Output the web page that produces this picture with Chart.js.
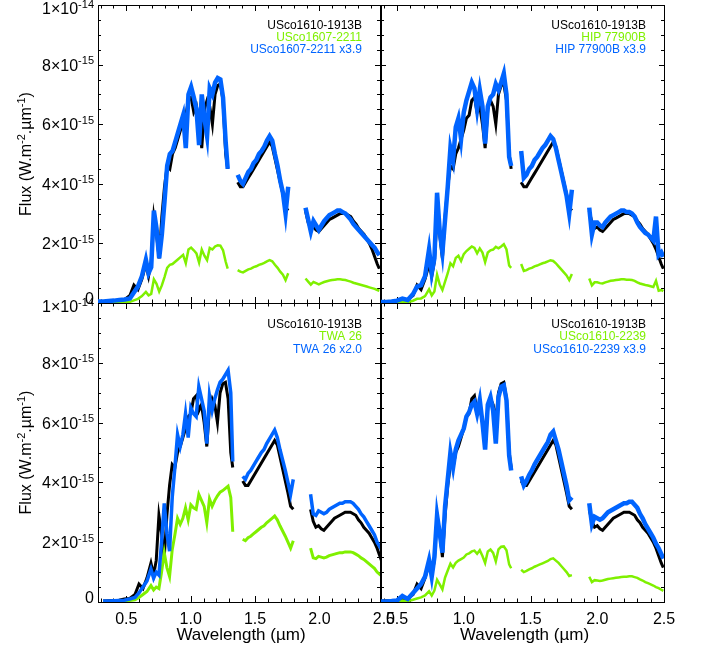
<!DOCTYPE html>
<html lang="en">
<head>
<meta charset="UTF-8">
<title>USco1610-1913B compared with young late-M dwarfs</title>
<script src="https://cdn.jsdelivr.net/npm/chart.js"></script>
<style>
    body { margin: 0; background: #fff; }
    #wrap { position: relative; width: 703px; height: 651px; }
    canvas { position: absolute; left: 0; top: 0; }
</style>
</head>
<body>
<div id="wrap">
    <canvas id="c0" width="703" height="651"></canvas>
    <canvas id="c1" width="703" height="651"></canvas>
    <canvas id="c2" width="703" height="651"></canvas>
    <canvas id="c3" width="703" height="651"></canvas>
</div>
<script>
// wavelength grid (micron), three bands separated by telluric gaps
const wavelength = [
    0.38, 0.42, 0.46, 0.50, 0.54, 0.58, 0.62, 0.65, 0.68, 0.71, 0.74, 0.76, 0.78, 0.80, 0.82, 0.84,
    0.86, 0.88, 0.90, 0.92, 0.94, 0.96, 0.98, 1.00, 1.02, 1.04, 1.06, 1.08, 1.10, 1.12, 1.14, 1.16,
    1.18, 1.20, 1.22, 1.24, 1.26, 1.28, 1.30, 1.32, 1.34, 1.355,
    1.43, 1.45, 1.47, 1.49, 1.51, 1.53, 1.55, 1.57, 1.59, 1.61, 1.63, 1.65, 1.67, 1.69, 1.71, 1.73,
    1.75, 1.77, 1.79, 1.81,
    1.94, 1.96, 1.98, 2.00, 2.02, 2.04, 2.06, 2.08, 2.10, 2.12, 2.14, 2.16, 2.18, 2.20, 2.22, 2.24,
    2.26, 2.28, 2.30, 2.32, 2.34, 2.36, 2.38, 2.40, 2.42, 2.44, 2.46, 2.48, 2.495
];

// fluxes in units of 1e-15 W.m-2.um-1
const fluxUSco1610_1913B = [
    0.03, 0.04, 0.05, 0.06, 0.10, 0.12, 0.25, 0.60, 0.45, 0.80, 1.30, 0.90, 1.40, 2.90, 2.30, 1.50,
    2.90, 3.90, 4.60, 4.50, 5.00, 5.20, 5.50, 5.80, 6.20, 6.30, 6.80, 6.90, 6.40, 6.60, 6.00, 5.20,
    6.50, 6.80, 6.60, 6.00, 7.00, 7.30, 7.35, 6.80, 5.00, 4.50,
    4.05, 3.90, 3.90, 4.05, 4.20, 4.35, 4.50, 4.65, 4.80, 4.95, 5.10, 5.25, 5.40, 5.25, 4.85, 4.45,
    4.05, 3.65, 3.20, 3.10,
    3.10, 2.70, 2.50, 2.55, 2.45, 2.40, 2.50, 2.60, 2.70, 2.80, 2.85, 2.90, 2.95, 3.00, 3.00, 3.00,
    2.95, 2.90, 2.75, 2.65, 2.50, 2.40, 2.30, 2.15, 2.00, 1.80, 1.55, 1.30, 1.15
];

// comparison spectra as plotted after scaling (blue curves)
const fluxUSco1607_2211x39 = [
    0.05, 0.05, 0.07, 0.08, 0.10, 0.12, 0.15, 0.35, 0.55, 0.90, 1.45, 1.00, 1.20, 3.10, 2.50, 1.50,
    2.30, 3.40, 4.60, 5.00, 5.10, 5.40, 5.70, 6.00, 6.30, 5.20, 7.00, 7.25, 6.90, 6.50, 5.30, 7.00,
    6.20, 5.60, 7.20, 7.00, 7.40, 7.55, 7.50, 6.90, 5.40, 4.50,
    4.30, 4.10, 4.00, 4.20, 4.40, 4.50, 4.70, 4.80, 5.00, 5.10, 5.25, 5.45, 5.60, 5.45, 5.00, 4.60,
    4.10, 3.70, 3.00, 3.90,
    3.20, 2.80, 2.40, 2.75, 2.60, 2.45, 2.60, 2.75, 2.85, 2.95, 3.00, 3.05, 3.10, 3.10, 3.05, 3.00,
    2.90, 2.80, 2.65, 2.55, 2.45, 2.35, 2.25, 2.15, 2.05, 1.95, 1.85, 1.70, 1.60
];
const fluxHIP77900Bx39 = [
    0.03, 0.03, 0.05, 0.08, 0.15, 0.10, 0.30, 0.55, 0.60, 0.90, 1.80, 1.00, 1.50, 3.70, 2.40, 1.70,
    2.80, 3.90, 5.20, 4.80, 5.90, 6.20, 5.50, 6.40, 6.80, 7.10, 7.40, 7.20, 6.50, 7.15, 6.60, 5.35,
    6.60, 6.90, 7.00, 7.35, 7.15, 7.40, 7.70, 7.00, 4.90, 4.60,
    5.10, 4.20, 4.30, 4.50, 4.60, 4.80, 4.90, 5.05, 5.20, 5.30, 5.45, 5.60, 5.50, 5.20, 4.80, 4.40,
    4.00, 3.60, 3.00, 3.80,
    3.20, 2.30, 2.70, 2.70, 2.60, 2.55, 2.70, 2.80, 2.90, 2.95, 3.00, 3.05, 3.10, 3.10, 3.05, 3.05,
    3.00, 2.90, 2.70, 2.55, 2.45, 2.35, 2.30, 2.20, 2.10, 2.90, 1.60, 1.70, 1.55
];
const fluxTWA26x20 = [
    0.03, 0.03, 0.04, 0.05, 0.06, 0.10, 0.15, 0.30, 0.50, 0.70, 1.10, 0.80, 1.00, 0.90, 2.00, 3.30,
    2.30, 1.70, 3.50, 4.50, 5.60, 5.20, 5.60, 6.30, 5.50, 6.50, 6.30, 6.20, 7.20, 6.80, 6.40, 5.30,
    6.90, 6.40, 6.80, 7.10, 7.35, 7.45, 7.60, 7.75, 7.00, 4.70,
    4.20, 4.10, 4.30, 4.40, 4.55, 4.70, 4.85, 5.00, 5.10, 5.30, 5.45, 5.60, 5.75, 5.50, 5.10, 4.75,
    4.40, 4.00, 3.60, 4.10,
    3.60, 2.95, 2.90, 3.05, 3.00, 2.95, 3.00, 3.10, 3.15, 3.20, 3.25, 3.30, 3.30, 3.35, 3.35, 3.35,
    3.30, 3.20, 3.10, 2.95, 2.85, 2.70, 2.55, 2.40, 2.25, 2.00, 1.85, 1.70, 1.60
];
const fluxUSco1610_2239x39 = [
    0.02, 0.02, 0.03, 0.05, 0.20, 0.10, 0.30, 0.45, 0.60, 0.85, 1.40, 0.85, 1.50, 2.90, 2.30, 1.65,
    3.20, 4.10, 5.00, 4.50, 5.10, 5.40, 5.60, 5.80, 6.20, 6.35, 6.60, 6.70, 6.30, 6.75, 6.00, 5.10,
    6.60, 6.85, 6.40, 5.30, 6.85, 7.20, 7.25, 6.75, 4.90, 4.40,
    4.20, 3.90, 4.05, 4.25, 4.40, 4.60, 4.75, 4.90, 5.05, 5.20, 5.35, 5.60, 5.70, 5.40, 5.10, 4.70,
    4.30, 3.90, 3.40, 3.50,
    3.30, 2.60, 2.85, 2.80, 2.75, 2.80, 2.90, 3.00, 3.05, 3.10, 3.15, 3.20, 3.25, 3.30, 3.30, 3.35,
    3.35, 3.25, 3.15, 2.95, 2.80, 2.60, 2.45, 2.30, 2.15, 1.95, 1.80, 1.60, 1.45
];

const targetName = 'USco1610-1913B';
const comparisonNames = ['USco1607-2211', 'HIP 77900B', 'TWA 26', 'USco1610-2239'];
const scaleFactors = [3.9, 3.9, 2.0, 3.9];
const scaledComparisons = [fluxUSco1607_2211x39, fluxHIP77900Bx39, fluxTWA26x20, fluxUSco1610_2239x39];
const xTickLabels = [0.5, 1.0, 1.5, 2.0, 2.5];
const yTickValues = [0, 2, 4, 6, 8, 10];   // x 1e-15

const BLACK = '#000000', GREEN = '#7ff000', BLUE = '#0064ff';
const FONT = '"Liberation Sans", Arial, sans-serif';
const W = 703, H = 651;

// plot boxes [left, top, right, bottom], axis ranges as drawn, line widths (noise band)
const panels = [
    { row: 0, col: 0, box: [98, 5, 380, 303], ticks: [0.28, 2.47], range: [0.38, 2.5], widths: [4.5, 2.5, 3] },
    { row: 0, col: 1, box: [381, 5, 664, 303], ticks: [0.38, 2.5], range: [0.38, 2.5], widths: [4.5, 2.5, 3] },
    { row: 1, col: 0, box: [98, 303, 380, 602], ticks: [0.28, 2.47], range: [0.342, 2.462], widths: [3.5, 3, 3] },
    { row: 1, col: 1, box: [381, 303, 664, 602], ticks: [0.38, 2.5], range: [0.38, 2.5], widths: [4.5, 2.5, 3] }
];

function toPoints(flux, factor) {
    const pts = [];
    wavelength.forEach((w, i) => {
        if (i > 0 && w - wavelength[i - 1] > 0.05) {
            pts.push({ x: (w + wavelength[i - 1]) / 2, y: null });
        }
        pts.push({ x: w, y: flux[i] / factor });
    });
    return pts;
}

// text with superscripts: segs = [[text, isSup], ...]
function drawMixed(ctx, segs, x, y, align) {
    const fonts = ['16px ' + FONT, '11px ' + FONT];
    let total = 0;
    segs.forEach(s => { ctx.font = fonts[s[1] ? 1 : 0]; total += ctx.measureText(s[0]).width; });
    let cx = align === 'right' ? x - total : align === 'center' ? x - total / 2 : x;
    ctx.textAlign = 'left';
    ctx.textBaseline = 'alphabetic';
    segs.forEach(s => {
        ctx.font = fonts[s[1] ? 1 : 0];
        ctx.fillText(s[0], cx, s[1] ? y - 0.5 : y + 6);
        cx += ctx.measureText(s[0]).width;
    });
}

function panelPlugin(p, idx) {
    return {
        id: 'panelFrame' + idx,
        beforeDatasetsDraw(chart) {
            const ctx = chart.ctx, a = chart.chartArea;
            const xs = chart.scales.x, ys = chart.scales.y;
            ctx.save();
            ctx.strokeStyle = '#000';
            ctx.lineWidth = 1;
            ctx.beginPath();
            for (let i = Math.ceil(xs.min * 10 - 1e-6); i <= Math.floor(xs.max * 10 + 1e-6); i++) {
                const px = Math.round(xs.getPixelForValue(i / 10)) + 0.5;
                if (px <= a.left + 1 || px >= a.right - 1) continue;
                const len = i % 5 === 0 ? 6 : 3.5;
                ctx.moveTo(px, a.bottom); ctx.lineTo(px, a.bottom - len);
                ctx.moveTo(px, a.top); ctx.lineTo(px, a.top + len);
            }
            for (let i = 1; i < 20; i++) {
                const py = Math.round(ys.getPixelForValue(i / 2)) + 0.5;
                const len = i % 4 === 0 ? 5 : 3;
                ctx.moveTo(a.left, py); ctx.lineTo(a.left + len, py);
                ctx.moveTo(a.right, py); ctx.lineTo(a.right - len, py);
            }
            ctx.stroke();
            ctx.strokeRect(Math.round(a.left) + 0.5, Math.round(a.top) + 0.5,
                Math.round(a.right - a.left), Math.round(a.bottom - a.top));
            ctx.restore();
        },
        afterDraw(chart) {
            const ctx = chart.ctx, a = chart.chartArea;
            const xs = chart.scales.x, ys = chart.scales.y;
            ctx.save();
            ctx.fillStyle = '#000';
            if (p.col === 0) {
                yTickValues.forEach(v => {
                    let py = ys.getPixelForValue(v);
                    if (v === 0) {
                        drawMixed(ctx, [['0', 0]], a.left - 4, py - 5.5, 'right');
                    } else if (v === 10) {
                        drawMixed(ctx, [['1\u00d710', 0], ['-14', 1]], a.left - 4, py + 3, 'right');
                    } else {
                        drawMixed(ctx, [[v + '\u00d710', 0], ['-15', 1]], a.left - 4, py, 'right');
                    }
                });
                ctx.save();
                ctx.translate(25, (a.top + a.bottom) / 2);
                ctx.rotate(-Math.PI / 2);
                drawMixed(ctx, [['Flux (W.m', 0], ['-2', 1], ['.\u00b5m', 0], ['-1', 1], [')', 0]], 0, 0, 'center');
                ctx.restore();
            }
            if (p.row === 1) {
                ctx.font = '16px ' + FONT;
                ctx.textAlign = 'center';
                ctx.textBaseline = 'alphabetic';
                xTickLabels.forEach(v => {
                    ctx.fillText(v.toFixed(1), xs.getPixelForValue(v), a.bottom + 22);
                });
                ctx.font = '17px ' + FONT;
                ctx.fillText('Wavelength (\u00b5m)', (a.left + a.right) / 2 + 2, a.bottom + 38);
            }
            const name = comparisonNames[idx];
            const offs = p.row === 0 ? [23.5, 35.8, 48.3] : [25.3, 37.3, 50];
            const lines = [
                [targetName, BLACK],
                [name, GREEN],
                [name + ' x' + scaleFactors[idx].toFixed(1), BLUE]
            ];
            ctx.font = '12px ' + FONT;
            ctx.textAlign = 'right';
            ctx.textBaseline = 'alphabetic';
            lines.forEach((l, i) => {
                ctx.fillStyle = l[1];
                ctx.fillText(l[0], a.right - 18, a.top + offs[i]);
            });
            ctx.restore();
        }
    };
}

panels.forEach((p, idx) => {
    const f = scaleFactors[idx];
    const line = (data, color, width) => ({
        data: data,
        xAxisID: 'xd',
        yAxisID: 'y',
        borderColor: color,
        borderWidth: width,
        borderJoinStyle: 'miter',
        pointRadius: 0,
        fill: false,
        spanGaps: false
    });
    new Chart(document.getElementById('c' + idx), {
        type: 'line',
        data: {
            datasets: [
                line(toPoints(scaledComparisons[idx], 1), BLUE, p.widths[0]),
                line(toPoints(scaledComparisons[idx], f), GREEN, p.widths[1]),
                line(toPoints(fluxUSco1610_1913B, 1), BLACK, p.widths[2])
            ]
        },
        options: {
            responsive: false,
            animation: false,
            events: [],
            layout: { padding: { left: p.box[0], top: p.box[1], right: W - p.box[2], bottom: H - p.box[3] } },
            plugins: { legend: { display: false }, tooltip: { enabled: false } },
            elements: { line: { tension: 0 } },
            scales: {
                x: { type: 'linear', axis: 'x', min: p.ticks[0], max: p.ticks[1], display: false },
                xd: { type: 'linear', axis: 'x', min: p.range[0], max: p.range[1], display: false },
                y: { type: 'linear', min: 0, max: 10, display: false }
            }
        },
        plugins: [panelPlugin(p, idx)]
    });
});
</script>
</body>
</html>
